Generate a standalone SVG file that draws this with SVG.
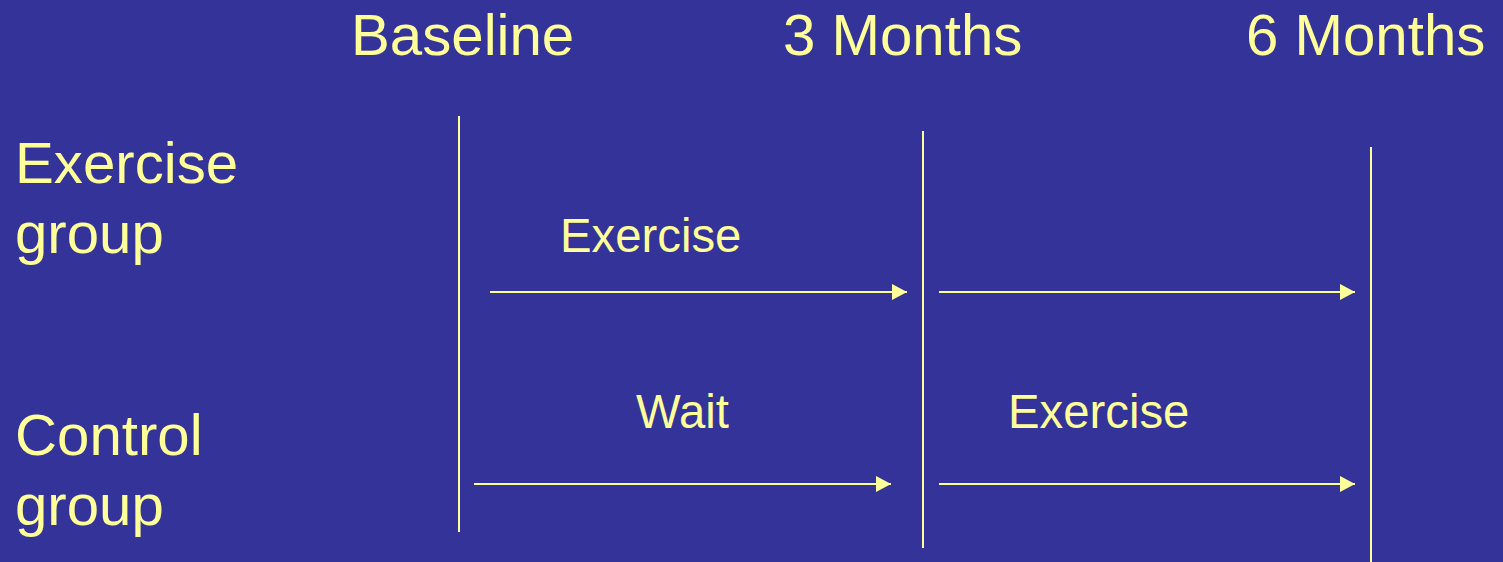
<svg xmlns="http://www.w3.org/2000/svg" width="1503" height="562" viewBox="0 0 1503 562">
<style>
.t{font-family:"Liberation Sans",Arial,sans-serif;fill:#FFFF99}
.big{font-size:58.2px}
.mid{font-size:47.3px}
.ln{stroke:#FFFF99;stroke-width:2;fill:none}
</style>
<defs>
<marker id="ah" markerWidth="16" markerHeight="16" refX="15" refY="8" orient="auto" markerUnits="userSpaceOnUse">
<path d="M0,0 L15,8 L0,16 Z" fill="#FFFF99"/>
</marker>
</defs>
<rect width="1503" height="562" fill="#333399"/>
<g id="headers">
<text class="t big" x="351" y="55">Baseline</text>
<text class="t big" x="783" y="55">3 Months</text>
<text class="t big" x="1246" y="55">6 Months</text>
</g>
<g id="exercise-group">
<text class="t big" x="15" y="183">Exercise</text>
<text class="t big" x="15" y="253">group</text>
</g>
<g id="control-group">
<text class="t big" x="15" y="455">Control</text>
<text class="t big" x="15" y="525">group</text>
</g>
<g id="labels">
<text class="t mid" x="560" y="252">Exercise</text>
<text class="t mid" x="636" y="428">Wait</text>
<text class="t mid" x="1008" y="428">Exercise</text>
</g>
<g id="timelines">
<line class="ln" x1="459" y1="116" x2="459" y2="532"/>
<line class="ln" x1="923" y1="131" x2="923" y2="548"/>
<line class="ln" x1="1371" y1="147" x2="1371" y2="562"/>
</g>
<g id="connectors">
<line class="ln" x1="490" y1="292" x2="907" y2="292" marker-end="url(#ah)"/>
<line class="ln" x1="939" y1="292" x2="1355" y2="292" marker-end="url(#ah)"/>
<line class="ln" x1="474" y1="484" x2="891" y2="484" marker-end="url(#ah)"/>
<line class="ln" x1="939" y1="484" x2="1355" y2="484" marker-end="url(#ah)"/>
</g>
</svg>
